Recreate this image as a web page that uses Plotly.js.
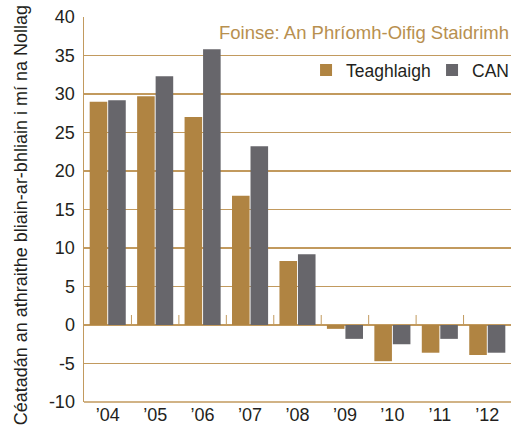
<!DOCTYPE html>
<html>
<head>
<meta charset="utf-8">
<script src="https://cdn.plot.ly/plotly-3.0.1.min.js"></script>
<style>html,body{margin:0;padding:0;background:#fff;}#chart{width:511px;height:425px;}</style>
</head>
<body>
<div id="chart"></div>
<script>
const years = ["’04","’05","’06","’07","’08","’09","’10","’11","’12"];
const teaghlaigh = [29.0, 29.7, 27.0, 16.8, 8.3, -0.5, -4.7, -3.6, -3.9];
const can = [29.2, 32.3, 35.8, 23.2, 9.2, -1.8, -2.5, -1.8, -3.6];
const yTicks = [-10, -5, 0, 5, 10, 15, 20, 25, 30, 35, 40];
const seriesNames = ["Teaghlaigh", "CAN"];

const gold = "#b08442";
const grey = "#67666b";
const lineGold = "#c29a5e";
const font = "Liberation Sans, Arial, sans-serif";

const traces = [
  {type: "bar", name: seriesNames[0], x: years, y: teaghlaigh, marker: {color: gold}},
  {type: "bar", name: seriesNames[1], x: years, y: can, marker: {color: grey}}
];

const shapes = [];
for (let i = 0; i < years.length - 1; i++) {
  shapes.push({type: "line", xref: "x", yref: "y", x0: i + 0.5, x1: i + 0.5, y0: 0, y1: 1.3,
    line: {color: lineGold, width: 1}});
}

const layout = {
  width: 511, height: 425,
  margin: {l: 84, r: 0, t: 17, b: 23, autoexpand: false},
  paper_bgcolor: "#fff", plot_bgcolor: "#fff",
  barmode: "group", bargap: 0.22, bargroupgap: 0.05,
  font: {family: font, color: "#231f20", size: 18},
  showlegend: true,
  legend: {orientation: "h", x: 0.52, xanchor: "left", y: 0.862, yanchor: "middle",
    font: {family: font, size: 17.5, color: "#231f20"}, bgcolor: "rgba(255,255,255,0)",
    itemwidth: 30, entrywidth: 81, traceorder: "normal"},
  xaxis: {type: "category", range: [-0.5, 8.5], showgrid: false, showline: false, zeroline: false,
    ticks: "", tickfont: {size: 18, family: font, color: "#231f20"}, fixedrange: true},
  yaxis: {range: [-10, 40], tickvals: yTicks, ticktext: yTicks.map(String),
    showgrid: true, gridcolor: lineGold, gridwidth: 1.5,
    zeroline: true, zerolinecolor: lineGold, zerolinewidth: 1.5,
    showline: true, linecolor: lineGold, linewidth: 1.5, ticks: "",
    tickfont: {size: 18, family: font, color: "#231f20"}, ticklabelstandoff: 4},
  shapes: shapes.concat([
    {type: "line", xref: "paper", yref: "paper", x0: 0, x1: 1, y0: 0, y1: 0, line: {color: lineGold, width: 1.5}}
  ]),
  annotations: [
    {xref: "paper", yref: "paper", x: 1.0, y: 0.961, xanchor: "right", yanchor: "middle", showarrow: false,
      text: "Foinse: An Phríomh-Oifig Staidrimh", font: {family: font, size: 18.5, color: "#b8904f"}},
    {xref: "paper", yref: "paper", x: -0.1475, y: 0.485, xanchor: "center", yanchor: "middle", showarrow: false,
      textangle: -90, text: "Céatadán an athraithe bliain-ar-bhliain i mí na Nollag",
      font: {family: font, size: 18, color: "#231f20"}}
  ]
};

Plotly.newPlot("chart", traces, layout, {displayModeBar: false, staticPlot: true});
</script>
</body>
</html>
